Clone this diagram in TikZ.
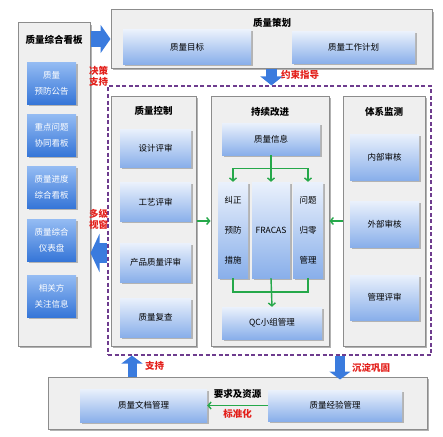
\documentclass[tikz,border=0pt]{standalone}
\usepackage{fontspec}
\setmainfont{Noto Sans CJK SC}
\usetikzlibrary{arrows.meta,positioning,shadows}

\definecolor{panelgray}{HTML}{EFEFEF}
\definecolor{edgegray}{HTML}{8C8C8C}
\definecolor{boxtop}{HTML}{EAF1FC}
\definecolor{boxbot}{HTML}{89AFEA}
\definecolor{darktop}{HTML}{95BCF3}
\definecolor{darkbot}{HTML}{3676D8}
\definecolor{arrowblue}{HTML}{3A7BDE}
\definecolor{linkgreen}{HTML}{25A84A}
\definecolor{tagred}{HTML}{E3201B}
\definecolor{framepurple}{HTML}{6E3C8E}

\begin{document}
\begin{tikzpicture}[
    x=1pt, y=-1pt,
    panel/.style={draw=edgegray, fill=panelgray, line width=1pt, drop shadow={shadow xshift=2pt, shadow yshift=-2pt, fill=black, opacity=0.3}},
    block/.style={top color=boxtop, bottom color=boxbot, draw=none, align=center, font=\fontsize{8.5}{10}\selectfont, drop shadow={shadow xshift=1.5pt, shadow yshift=-1.5pt, fill=black, opacity=0.25}},
    darkblock/.style={block, top color=darktop, bottom color=darkbot, text=white, font=\fontsize{8.5}{16}\selectfont},
    tallblock/.style={block, minimum height=96pt, font=\fontsize{8.5}{30}\selectfont},
    title/.style={text=black, font=\fontsize{9.5}{11}\selectfont\bfseries},
    tag/.style={text=tagred, font=\fontsize{9.5}{11}\selectfont\bfseries, align=center, inner sep=0pt},
    flow/.style={-{Straight Barb[length=3pt,width=7pt]}, linkgreen, line width=1.4pt},
    bigarrow/.style={-{Triangle[width=22pt,length=9pt]}, arrowblue, line width=11pt}
]
\useasboundingbox (0,0) rectangle (443,436);

% left board
\node[panel, minimum width=72pt, minimum height=323pt] (board) at (54,184.5) {};
\node[title] (boardtitle) at (54,40) {质量综合看板};
\node[darkblock, minimum width=49pt, minimum height=42pt] (notice) at (51.5,83) {质量\\预防公告};
\node[darkblock, minimum width=49pt, minimum height=42pt] (issue) at (51.5,135) {重点问题\\协同看板};
\node[darkblock, minimum width=49pt, minimum height=42pt] (progress) at (51.5,187) {质量进度\\综合看板};
\node[darkblock, minimum width=49pt, minimum height=42pt] (meter) at (51.5,240) {质量综合\\仪表盘};
\node[darkblock, minimum width=49pt, minimum height=42pt] (party) at (51.5,296) {相关方\\关注信息};

% planning
\node[panel, minimum width=321pt, minimum height=58pt] (plan) at (271.5,39) {};
\node[title] (plantitle) at (272,23) {质量策划};
\node[block, minimum width=128pt, minimum height=34pt] (goal) at (187,47) {质量目标};
\node[block, minimum width=123pt, minimum height=32pt] (workplan) at (353.5,47.5) {质量工作计划};

% dashed frame
\node[draw=framepurple, line width=1.2pt, dash pattern=on 4pt off 2.5pt, minimum width=323pt, minimum height=269pt] (frame) at (269.5,220.5) {};

% quality control
\node[panel, minimum width=85pt, minimum height=250pt] (ctrl) at (153.5,221) {};
\node[title] (ctrltitle) at (153.5,111) {质量控制};
\node[block, minimum width=71pt, minimum height=38pt] (design) at (155.5,148) {设计评审};
\node[block, minimum width=71pt, minimum height=39pt] (process) at (155.5,202) {工艺评审};
\node[block, minimum width=71pt, minimum height=39pt] (product) at (155.5,262.5) {产品质量评审};
\node[block, minimum width=71pt, minimum height=39pt] (recheck) at (155.5,317.5) {质量复查};

% improvement
\node[panel, minimum width=118pt, minimum height=250pt] (improve) at (270,221) {};
\node[title] (improvetitle) at (270,112) {持续改进};
\node[block, minimum width=98pt, minimum height=32pt] (info) at (271,139) {质量信息};
\node[tallblock, minimum width=30pt] (corr) at (233,230) {纠正\\预防\\措施};
\node[tallblock, minimum width=38pt] (fracas) at (271,230) {FRACAS};
\node[tallblock, minimum width=30pt] (zero) at (308,230) {问题\\归零\\管理};
\node[block, minimum width=100pt, minimum height=32pt] (qc) at (272,323) {QC小组管理};

% monitoring
\node[panel, minimum width=82pt, minimum height=250pt] (monitor) at (384,221) {};
\node[title] (monitortitle) at (384,112) {体系监测};
\node[block, minimum width=69pt, minimum height=46pt] (internal) at (384.5,157) {内部审核};
\node[block, minimum width=69pt, minimum height=46pt] (external) at (384.5,224) {外部审核};
\node[block, minimum width=69pt, minimum height=45pt] (review) at (384.5,297.5) {管理评审};

% resources
\node[panel, minimum width=379pt, minimum height=52pt] (resource) at (237.5,403) {};
\node[block, minimum width=127pt, minimum height=33pt] (doc) at (143.5,405.5) {质量文档管理};
\node[block, minimum width=134pt, minimum height=31pt] (exp) at (335,405.5) {质量经验管理};

% green links
\draw[flow] (info.south) -- (fracas.north);
\draw[flow] (info.south) -- ++(0,13) coordinate (split) -| (corr.north);
\draw[flow] (split) -| (zero.north);
\coordinate (join) at (271,292);
\draw[linkgreen, line width=1.4pt] (corr.south) |- (join);
\draw[linkgreen, line width=1.4pt] (zero.south) |- (join);
\draw[flow] (fracas.south) -- (qc.north);
\draw[flow] (ctrl.east) -- (improve.west);
\draw[flow] (monitor.west) -- (improve.east);
\draw[flow] (exp.west) -- node[above=3pt, title] (reqtitle) {要求及资源} node[below=3pt, tag] (stdtag) {标准化} (doc.east);

% blue arrows
\draw[bigarrow, line width=16pt, -{Triangle[width=28pt,length=10pt]}] (board.east |- plan.west) -- (plan.west);
\node[tag] (decide) at (98.5,76) {决策\\支持};
\draw[bigarrow] (plan.south) -- (plan.south |- frame.north);
\node[tag, anchor=west] (guide) at (281,75) {约束指导};
\coordinate (viewpt) at (0,253);
\draw[bigarrow, line width=20pt, -{Triangle[width=38pt,length=9pt]}] (frame.west |- viewpt) -- (board.east |- viewpt);
\node[tag] (view) at (98.5,219) {多级\\视窗};
\coordinate (suppt) at (132,0);
\draw[bigarrow, line width=9pt, -{Triangle[width=21pt,length=8pt]}] (resource.north -| suppt) -- (frame.south -| suppt);
\node[tag, anchor=west] (support) at (145,366) {支持};
\coordinate (settlept) at (340,0);
\draw[bigarrow, line width=10pt, -{Triangle[width=21pt,length=8pt]}, shorten >=-3pt] (frame.south -| settlept) -- (resource.north -| settlept);
\node[tag, anchor=west] (settle) at (352,368) {沉淀巩固};
\end{tikzpicture}
\end{document}
